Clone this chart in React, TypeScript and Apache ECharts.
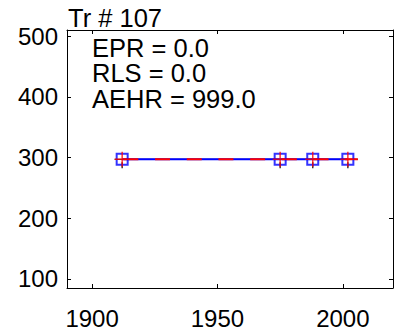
import React, { useEffect, useRef } from "react";
import * as echarts from "echarts";

// Data
const years = [1912, 1975, 1988, 2002];
const values = [297, 297, 297, 297];
const fitYears = [1909, 2006];
const fitValues = [297, 297];
const xTicks = [1900, 1950, 2000];
const yTicks = [100, 200, 300, 400, 500];
const titleText = "Tr # 107";
const statLines = ["EPR = 0.0", "RLS = 0.0", "AEHR = 999.0"];

const X_MIN = 1890;
const X_MAX = 2020;
const Y_MIN = 85;
const Y_MAX = 510;

const FONT = "Liberation Sans, Arial, Helvetica, sans-serif";
const FS = 24;
const TFS = 25.5;
const LINE_STEP = 25.6;

const plusPath =
  "path://M-0.1,-1 L0.1,-1 L0.1,-0.1 L1,-0.1 L1,0.1 L0.1,0.1 L0.1,1 L-0.1,1 L-0.1,0.1 L-1,0.1 L-1,-0.1 L-0.1,-0.1 Z";

export default function App() {
  const ref = useRef<HTMLDivElement>(null);

  useEffect(() => {
    if (!ref.current) return;
    const chart = echarts.init(ref.current, undefined, { renderer: "svg" });

    const pts = years.map((y, i) => [y, values[i]]);
    const fit = fitYears.map((y, i) => [y, fitValues[i]]);

    const axisCommon = {
      type: "value" as const,
      axisLine: { show: true, onZero: false, lineStyle: { color: "#000", width: 1 } },
      splitLine: { show: false },
    };
    const fmt = (v: number) => String(v);

    chart.setOption({
      animation: false,
      backgroundColor: "#fff",
      grid: { left: 67, top: 30, width: 326, height: 261, containLabel: false },
      xAxis: [
        {
          ...axisCommon,
          position: "bottom",
          min: X_MIN,
          max: X_MAX,
          axisTick: { show: true, inside: true, length: 4, customValues: xTicks, lineStyle: { color: "#000" } },
          axisLabel: { show: true, customValues: xTicks, formatter: fmt, color: "#000", fontSize: FS, fontFamily: FONT, margin: 18 },
        },
        {
          ...axisCommon,
          position: "top",
          min: X_MIN,
          max: X_MAX,
          axisTick: { show: true, inside: true, length: 4, customValues: xTicks, lineStyle: { color: "#000" } },
          axisLabel: { show: false },
        },
      ],
      yAxis: [
        {
          ...axisCommon,
          position: "left",
          min: Y_MIN,
          max: Y_MAX,
          axisTick: { show: true, inside: true, length: 4, customValues: yTicks, lineStyle: { color: "#000" } },
          axisLabel: { show: true, customValues: yTicks, formatter: fmt, color: "#000", fontSize: FS, fontFamily: FONT, margin: 9 },
        },
        {
          ...axisCommon,
          position: "right",
          min: Y_MIN,
          max: Y_MAX,
          axisTick: { show: true, inside: true, length: 4, customValues: yTicks, lineStyle: { color: "#000" } },
          axisLabel: { show: false },
        },
      ],
      series: [
        {
          type: "line",
          data: fit,
          symbol: "none",
          lineStyle: { color: "#000", width: 1 },
          z: 1,
        },
        {
          type: "line",
          data: pts,
          symbol: "none",
          lineStyle: { color: "#0000ff", width: 2 },
          z: 2,
        },
        {
          type: "line",
          data: fit,
          symbol: "none",
          lineStyle: { color: "#ff0000", width: 2, type: [15, 16.7], dashOffset: 23.4 },
          z: 3,
        },
        {
          type: "scatter",
          data: pts,
          symbol: "rect",
          symbolSize: [1.5, 6],
          symbolOffset: [0, 6],
          itemStyle: { color: "#000" },
          z: 4,
        },
        {
          type: "scatter",
          data: pts,
          symbol: "rect",
          symbolSize: 11,
          itemStyle: { color: "transparent", borderColor: "#0000ff", borderWidth: 2 },
          z: 5,
        },
        {
          type: "scatter",
          data: pts,
          symbol: plusPath,
          symbolSize: 15,
          itemStyle: { color: "#ff0000" },
          z: 6,
        },
      ],
      graphic: [
        {
          type: "text",
          left: 68,
          top: 5,
          style: { text: titleText, fill: "#000", font: `${TFS}px ${FONT}` },
        },
        ...statLines.map((t, i) => ({
          type: "text",
          left: 92,
          top: 34.5 + i * LINE_STEP,
          style: { text: t, fill: "#000", font: `${TFS}px ${FONT}` },
        })),
      ],
    });

    return () => chart.dispose();
  }, []);

  return (
    <div
      ref={ref}
      style={{ position: "fixed", left: 0, top: 0, width: 398, height: 330, background: "#fff" }}
    />
  );
}
